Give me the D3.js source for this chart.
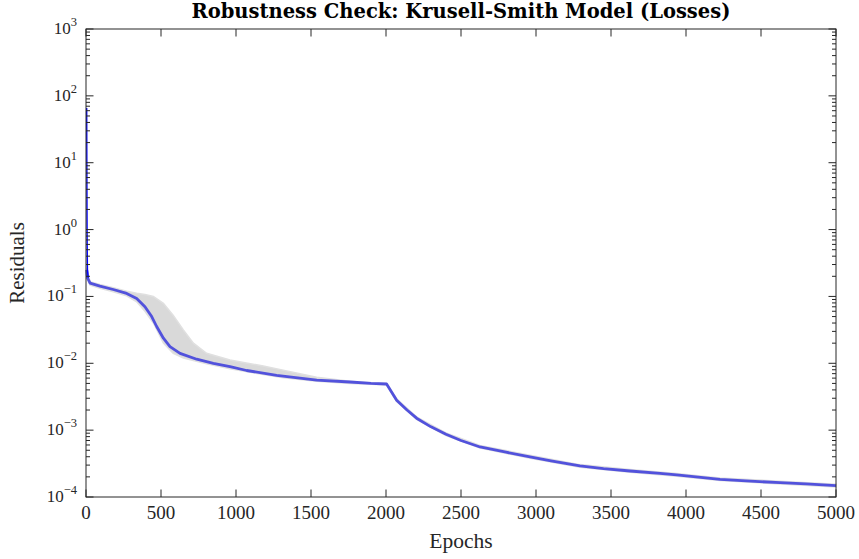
<!DOCTYPE html>
<html>
<head>
<meta charset="utf-8">
<script src="https://cdn.jsdelivr.net/npm/d3@7"></script>
<style>
  body { margin: 0; background: #fff; }
  svg { display: block; font-family: "Liberation Serif", "DejaVu Serif", serif; }
</style>
</head>
<body>
<div id="chart"></div>
<script>
// mean residual across runs
const epochs = [0, 1, 2, 3, 5, 10, 27, 93, 182, 271, 338, 393, 438, 471, 516, 560, 627, 738, 849, 960,
    1071, 1271, 1538, 1760, 1900, 2004, 2071, 2140, 2204, 2300, 2400, 2500, 2627, 2800, 2960, 3100,
    3293, 3450, 3627, 3827, 3938, 4227, 4400, 4627, 4800, 5000];
const meanLoss = [66, 10, 2, 0.63, 0.25, 0.19, 0.158, 0.143, 0.127, 0.111, 0.093, 0.070, 0.050, 0.0355, 0.0237, 0.0178, 0.0141, 0.0115, 0.0100, 0.0089,
    0.0078, 0.0066, 0.0056, 0.00525, 0.0050, 0.0049, 0.0028, 0.0020, 0.00151, 0.00112, 0.00087, 0.0007, 0.00056, 0.000468, 0.000398, 0.000347,
    0.000292, 0.000266, 0.000245, 0.000226, 0.000214, 0.000184, 0.000174, 0.000164, 0.000157, 0.000148];

// min / max band across runs
const bandEpochs = [5, 27, 93, 182, 271, 338, 393, 449, 516, 582, 649, 716, 804, 960, 1182, 1315, 1538, 1760, 1900, 2004,
    2071, 2204, 2400, 2627, 2960, 3293, 3627, 3938, 4227, 4627, 5000];
const bandHigh = [0.263, 0.166, 0.151, 0.135, 0.120, 0.112, 0.107, 0.100, 0.079, 0.052, 0.0316, 0.0200, 0.0141, 0.0112, 0.0091, 0.0079, 0.0062, 0.0054, 0.0051, 0.0050,
    0.00295, 0.00158, 0.00091, 0.00059, 0.00042, 0.000305, 0.000257, 0.000224, 0.000193, 0.000172, 0.000155];
const bandLow = [0.224, 0.148, 0.132, 0.117, 0.102, 0.083, 0.060, 0.040, 0.020, 0.0141, 0.0120, 0.0110, 0.0098, 0.0083, 0.0068, 0.0061, 0.0054, 0.0050, 0.00484, 0.00473,
    0.00269, 0.00145, 0.00083, 0.00054, 0.00038, 0.000279, 0.000234, 0.000204, 0.000176, 0.000157, 0.000141];

const xTicks = [0, 500, 1000, 1500, 2000, 2500, 3000, 3500, 4000, 4500, 5000];
const yExponents = [-4, -3, -2, -1, 0, 1, 2, 3];

const svgWidth = 859, svgHeight = 559;
const margin = { top: 29, right: 23, bottom: 62, left: 86 };
const width = svgWidth - margin.left - margin.right;
const height = svgHeight - margin.top - margin.bottom;
const axisColor = "#262626";

const svg = d3.select("#chart")
    .append("svg")
    .attr("width", svgWidth)
    .attr("height", svgHeight);

const g = svg.append("g")
    .attr("transform", `translate(${margin.left},${margin.top})`);

const x = d3.scaleLinear().domain([0, 5000]).range([0, width]);
const y = d3.scaleLog().domain([1e-4, 1e3]).range([height, 0]);

// gray band
const band = bandEpochs.map((e, i) => ({ e: e, lo: bandLow[i], hi: bandHigh[i] }));
g.append("path")
    .datum(band)
    .attr("fill", "#d9d9d9")
    .attr("stroke", "#e0e0e0")
    .attr("stroke-width", 1.5)
    .attr("d", d3.area()
        .x(d => x(d.e))
        .y0(d => y(d.lo))
        .y1(d => y(d.hi)));

// mean line
const meanData = epochs.map((e, i) => ({ e: e, v: meanLoss[i] }));
g.append("path")
    .datum(meanData.filter(d => d.e >= 5))
    .attr("fill", "none")
    .attr("stroke", "#5252dc")
    .attr("stroke-width", 2.8)
    .attr("stroke-linejoin", "round")
    .attr("d", d3.line().x(d => x(d.e)).y(d => y(d.v)));

// initial spike
g.append("path")
    .datum(meanData.filter(d => d.e <= 10))
    .attr("fill", "none")
    .attr("stroke", "#0000ff")
    .attr("stroke-width", 1.4)
    .attr("d", d3.line().x(d => x(d.e) + 0.7).y(d => y(d.v)));

// axes box
g.append("rect")
    .attr("width", width)
    .attr("height", height)
    .attr("fill", "none")
    .attr("stroke", axisColor)
    .attr("stroke-width", 1);

const majorLen = 7.5, minorLen = 4;

// x ticks (inward, bottom and top)
xTicks.forEach(t => {
    g.append("line")
        .attr("x1", x(t)).attr("x2", x(t))
        .attr("y1", height).attr("y2", height - majorLen)
        .attr("stroke", axisColor);
    g.append("line")
        .attr("x1", x(t)).attr("x2", x(t))
        .attr("y1", 0).attr("y2", majorLen)
        .attr("stroke", axisColor);
    g.append("text")
        .attr("x", x(t))
        .attr("y", height + 22)
        .attr("text-anchor", "middle")
        .attr("font-size", 19)
        .attr("fill", axisColor)
        .text(t);
});

// y ticks, major and minor, left and right
yExponents.forEach(p => {
    const ticks = [{ v: Math.pow(10, p), len: majorLen }];
    if (p < 3) {
        for (let k = 2; k <= 9; k++) ticks.push({ v: k * Math.pow(10, p), len: minorLen });
    }
    ticks.forEach(t => {
        g.append("line")
            .attr("x1", 0).attr("x2", t.len)
            .attr("y1", y(t.v)).attr("y2", y(t.v))
            .attr("stroke", axisColor);
        g.append("line")
            .attr("x1", width).attr("x2", width - t.len)
            .attr("y1", y(t.v)).attr("y2", y(t.v))
            .attr("stroke", axisColor);
    });

    const lbl = g.append("text")
        .attr("x", -9)
        .attr("y", y(Math.pow(10, p)) + 5)
        .attr("text-anchor", "end")
        .attr("fill", axisColor);
    lbl.append("tspan").attr("font-size", 17).text("10");
    lbl.append("tspan")
        .attr("font-size", 12.5)
        .attr("dy", -8)
        .text(p < 0 ? "\u2212" + (-p) : p);
});

// title
svg.append("text")
    .attr("x", margin.left + width / 2)
    .attr("y", 18)
    .attr("text-anchor", "middle")
    .attr("font-family", "'DejaVu Serif', serif")
    .attr("font-size", 19.5)
    .attr("font-weight", "bold")
    .attr("fill", "#000")
    .text("Robustness Check: Krusell-Smith Model (Losses)");

// x label
svg.append("text")
    .attr("x", margin.left + width / 2)
    .attr("y", 548)
    .attr("text-anchor", "middle")
    .attr("font-size", 21.5)
    .attr("fill", axisColor)
    .text("Epochs");

// y label
svg.append("text")
    .attr("transform", `translate(24,${margin.top + height / 2}) rotate(-90)`)
    .attr("text-anchor", "middle")
    .attr("font-size", 21)
    .attr("fill", axisColor)
    .text("Residuals");
</script>
</body>
</html>
